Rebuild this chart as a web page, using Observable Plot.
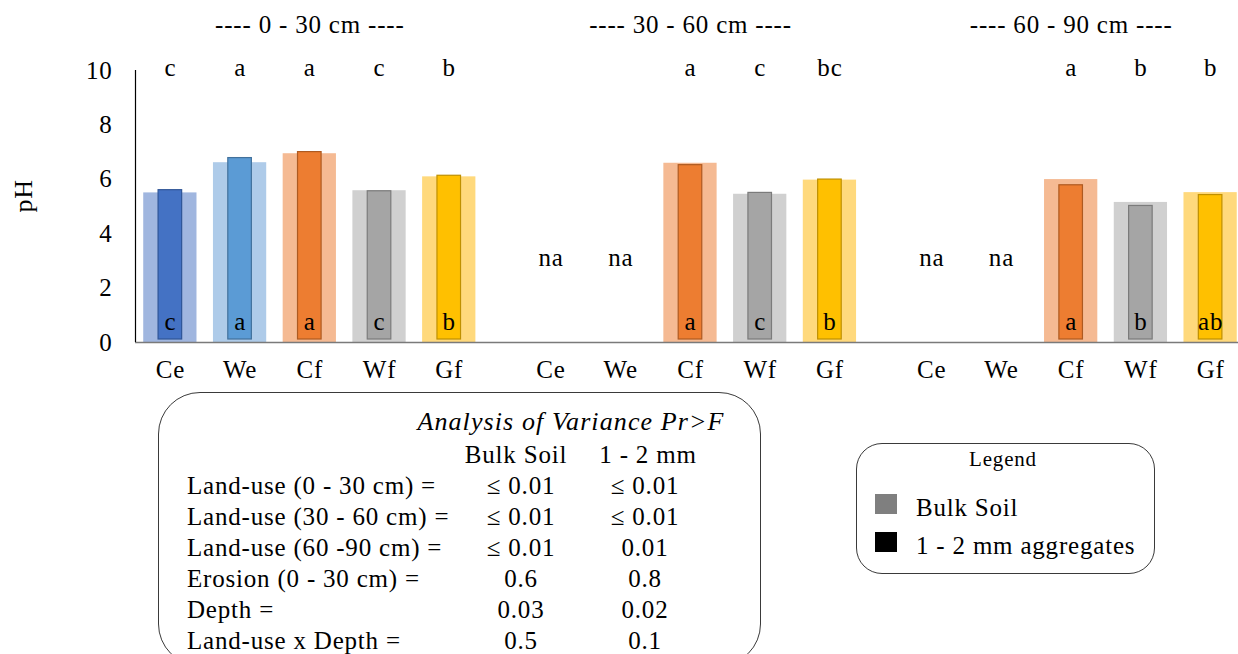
<!DOCTYPE html>
<html>
<head>
<meta charset="utf-8">
<script src="https://cdn.jsdelivr.net/npm/d3@7"></script>
<script src="https://cdn.jsdelivr.net/npm/@observablehq/plot@0.6"></script>
<style>
  body { margin: 0; background: #fff; }
  #wrap { position: relative; width: 1238px; height: 654px; overflow: hidden; background: #fff;
          font-family: "Liberation Serif", "Times New Roman", serif; color: #000; }
  #chart { position: absolute; left: 0; top: 0; }
  .box { position: absolute; border: 1.5px solid #3a3a3a; box-sizing: border-box; }
  .t { position: absolute; white-space: nowrap; line-height: 1; font-size: 25px; letter-spacing: 0.8px; }
  .c { transform: translateX(-50%); }
</style>
</head>
<body>
<div id="wrap">
  <div id="chart"></div>
</div>
<script>
// ---- data ----
const depths = ["0 - 30 cm", "30 - 60 cm", "60 - 90 cm"];
const landUses = ["Ce", "We", "Cf", "Wf", "Gf"];
// pH of bulk soil, by depth (rows) and land use (columns); null = not available
const bulkSoilPH = [
  [5.50, 6.61, 6.94, 5.58, 6.09],
  [null, null, 6.59, 5.45, 5.97],
  [null, null, 5.99, 5.15, 5.51]
];
// pH of 1 - 2 mm aggregates
const aggregatePH = [
  [5.60, 6.78, 7.00, 5.56, 6.13],
  [null, null, 6.52, 5.50, 5.99],
  [null, null, 5.78, 5.02, 5.42]
];
const bulkLetters = [
  ["c", "a", "a", "c", "b"],
  [null, null, "a", "c", "bc"],
  [null, null, "a", "b", "b"]
];
const aggregateLetters = [
  ["c", "a", "a", "c", "b"],
  [null, null, "a", "c", "b"],
  [null, null, "a", "b", "ab"]
];
const yTicks = [0, 2, 4, 6, 8, 10];
const anovaTitle = "Analysis of Variance Pr>F";
const anovaColumns = ["Bulk Soil", "1 - 2 mm"];
const anovaTerms = ["Land-use (0 - 30 cm) =", "Land-use (30 - 60 cm) =", "Land-use (60 -90 cm) =",
                    "Erosion (0 - 30 cm) =", "Depth =", "Land-use x Depth ="];
const anovaBulk = ["\u2264 0.01", "\u2264 0.01", "\u2264 0.01", "0.6", "0.03", "0.5"];
const anovaAggregates = ["\u2264 0.01", "\u2264 0.01", "0.01", "0.8", "0.02", "0.1"];
const legendTitle = "Legend";
const legendLabels = ["Bulk Soil", "1 - 2 mm aggregates"];

// ---- styles ----
const bulkFill = {Ce: "#a0b6df", We: "#aecbe9", Cf: "#f5ba93", Wf: "#d0d0d0", Gf: "#ffd97c"};
const aggFill = {Ce: "#4472c4", We: "#5b9bd5", Cf: "#ed7d31", Wf: "#a5a5a5", Gf: "#ffc000"};
const aggStroke = {Ce: "#2f5597", We: "#41719c", Cf: "#ae5a21", Wf: "#7b7b7b", Gf: "#bf9000"};
const legendSwatches = ["#7f7f7f", "#000000"];

// ---- layout ----
const G = 5.46;            // distance between depth groups, in category steps
const wideHalf = 0.382;    // half width of bulk soil bar (in steps)
const narrowHalf = 0.169;  // half width of aggregate bar
const xDomain = [-0.5, 2 * G + 4.4];

const rows = depths.flatMap((depth, gi) => landUses.map((cat, ci) => ({
  depth, cat, pos: gi * G + ci,
  bulk: bulkSoilPH[gi][ci], agg: aggregatePH[gi][ci],
  lb: bulkLetters[gi][ci], la: aggregateLetters[gi][ci]
})));
const posToCat = new Map(rows.map(r => [r.pos, r.cat]));

const chart = Plot.plot({
  width: 1238,
  height: 385,
  marginTop: 70,
  marginBottom: 43,
  marginLeft: 135,
  marginRight: 0,
  style: "font-family: 'Liberation Serif', 'Times New Roman', serif; font-size: 25px; letter-spacing: 0.8px; color: #000; background: transparent; overflow: visible;",
  x: {domain: xDomain},
  y: {domain: [0, 10]},
  color: {type: "identity"},
  marks: [
    Plot.rectY(rows.filter(r => r.bulk != null), {
      x1: r => r.pos - wideHalf, x2: r => r.pos + wideHalf, y1: 0, y2: "bulk",
      fill: r => bulkFill[r.cat]
    }),
    Plot.rectY(rows.filter(r => r.agg != null), {
      x1: r => r.pos - narrowHalf, x2: r => r.pos + narrowHalf, y1: 0, y2: "agg",
      fill: r => aggFill[r.cat], stroke: r => aggStroke[r.cat], strokeWidth: 1.2, insetBottom: 3
    }),
    Plot.ruleY([0], {stroke: "#7a7a7a", strokeWidth: 1.5}),
    Plot.ruleX([xDomain[0]], {y1: 0, y2: 10, stroke: "#000", strokeWidth: 1.2}),
    Plot.axisY({ticks: yTicks, tickSize: 0, tickPadding: 23, label: null}),
    Plot.axisX(rows.map(r => r.pos), {tickFormat: p => posToCat.get(p), tickSize: 0, tickPadding: 18, label: null}),
    Plot.text(rows.filter(r => r.lb), {x: "pos", y: 10, text: "lb", lineAnchor: "middle", dy: -3}),
    Plot.text(rows.filter(r => r.la), {x: "pos", y: 0, text: "la", lineAnchor: "middle", dy: -21}),
    Plot.text(rows.filter(r => r.bulk == null), {x: "pos", y: 3, text: () => "na", lineAnchor: "middle", dy: -3}),
    Plot.text(depths, {x: (d, i) => i * G + 2, frameAnchor: "top", dy: -46, lineAnchor: "middle", text: d => `---- ${d} ----`}),
    Plot.text(["pH"], {frameAnchor: "left", rotate: -90, dx: -112, dy: 6, lineAnchor: "middle", fontSize: 26, text: d => d})
  ]
});
document.getElementById("chart").appendChild(chart);

// ---- ANOVA box & legend (below the SVG) ----
const wrap = document.getElementById("wrap");
function addText(txt, left, top, cls = "", extra = "") {
  const s = document.createElement("div");
  s.className = "t " + cls;
  s.textContent = txt;
  s.style.cssText += `left:${left}px;top:${top}px;${extra}`;
  wrap.appendChild(s);
  return s;
}
const anovaBox = document.createElement("div");
anovaBox.className = "box";
anovaBox.style.cssText += "left:158px;top:392px;width:603px;height:274px;border-radius:42px;";
wrap.appendChild(anovaBox);
addText(anovaTitle, 571, 409, "c", "font-style:italic;font-size:26px;letter-spacing:1.1px;");
addText(anovaColumns[0], 516, 442, "c");
addText(anovaColumns[1], 648, 442, "c");
anovaTerms.forEach((term, i) => {
  const top = 473 + 31 * i;
  addText(term, 187, top);
  addText(anovaBulk[i], 521, top, "c");
  addText(anovaAggregates[i], 645, top, "c");
});

const legendBox = document.createElement("div");
legendBox.className = "box";
legendBox.style.cssText += "left:856px;top:443px;width:299px;height:131px;border-radius:26px;";
wrap.appendChild(legendBox);
addText(legendTitle, 1003, 449, "c", "font-size:21px;");
legendLabels.forEach((lab, i) => {
  const top = 495 + 38 * i;
  const sw = document.createElement("div");
  sw.style.cssText = `position:absolute;left:875px;top:${top - 1}px;width:22px;height:20px;background:${legendSwatches[i]};`;
  wrap.appendChild(sw);
  addText(lab, 916, top);
});
</script>
</body>
</html>
